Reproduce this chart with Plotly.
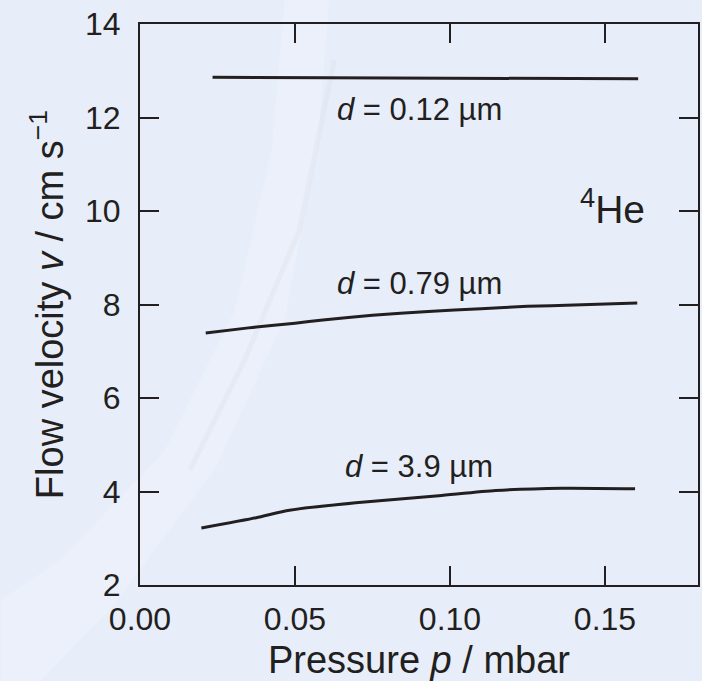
import plotly.graph_objects as go

# Flow velocity of superfluid 4He through pores of different diameter
p_012 = [0.0234, 0.060, 0.100, 0.1607]
v_012 = [12.86, 12.85, 12.84, 12.83]

p_079 = [0.0212, 0.035, 0.050, 0.059, 0.075, 0.093, 0.110, 0.125, 0.140, 0.1604]
v_079 = [7.39, 7.50, 7.60, 7.67, 7.77, 7.85, 7.91, 7.96, 7.99, 8.03]

p_39 = [0.0198, 0.0375, 0.0482, 0.0696, 0.0964, 0.1147, 0.136, 0.1597]
v_39 = [3.22, 3.44, 3.60, 3.76, 3.91, 4.02, 4.07, 4.06]

labels = ["<i>d</i> = 0.12 µm", "<i>d</i> = 0.79 µm", "<i>d</i> = 3.9 µm"]
label_p = [0.090, 0.090, 0.090]
label_v = [12.17, 8.44, 4.53]

x_ticks = [0.00, 0.05, 0.10, 0.15]
y_ticks = [2, 4, 6, 8, 10, 12, 14]

INK = "#231f20"
BG = "#e7eef9"
FONT = "Liberation Sans, Arial, Helvetica, sans-serif"

W, H = 702, 681
L, R, T, B = 140, 2, 24, 96


def px(x):
    return (x - L) / (W - L - R)


def py(y):
    return (H - B - y) / (H - T - B)


fig = go.Figure()
for xs, ys in [(p_012, v_012), (p_079, v_079), (p_39, v_39)]:
    fig.add_trace(go.Scatter(
        x=xs, y=ys, mode="lines",
        line=dict(color=INK, width=3, shape="spline", smoothing=0.6),
        showlegend=False, hoverinfo="skip",
    ))

for txt, xv, yv in zip(labels, label_p, label_v):
    fig.add_annotation(x=xv, y=yv, xref="x", yref="y", text=txt, showarrow=False,
                       font=dict(size=31, color=INK, family=FONT))

fig.add_annotation(x=0.1525, y=10.1, xref="x", yref="y", text="<sup>4</sup>He",
                   showarrow=False, font=dict(size=39, color=INK, family=FONT))

# soft light swoosh in the backdrop
band = [(330, 0), (318, 150), (285, 320), (215, 470), (110, 610), (40, 681),
        (0, 681), (0, 600), (60, 560), (165, 450), (235, 310), (272, 150), (285, 0)]
path = "M " + " L ".join(f"{px(x):.4f},{py(y):.4f}" for x, y in band) + " Z"
fig.add_shape(type="path", path=path, xref="paper", yref="paper", layer="below",
              fillcolor="rgba(255,255,255,0.16)", line=dict(width=0))
crease = [(335, 60), (300, 230), (245, 360), (190, 470)]
cpath = "M " + " L ".join(f"{px(x):.4f},{py(y):.4f}" for x, y in crease)
fig.add_shape(type="path", path=cpath, xref="paper", yref="paper", layer="below",
              line=dict(color="rgba(205,210,220,0.18)", width=5))

axis_common = dict(
    showline=True, mirror="ticks", linecolor=INK, linewidth=2,
    ticks="inside", ticklen=19, tickwidth=2, tickcolor=INK,
    showgrid=False, zeroline=False,
    tickfont=dict(size=32, color=INK, family=FONT),
)

fig.update_xaxes(range=[0, 0.18], tickvals=x_ticks, tickformat=".2f",
                 ticklabelstandoff=5,
                 title=dict(text="Pressure <i>p</i> / mbar",
                            font=dict(size=38, color=INK, family=FONT), standoff=12),
                 **axis_common)
fig.update_yaxes(range=[2, 14], tickvals=y_ticks, ticklabelstandoff=11,
                 title=dict(text="Flow velocity <i>v</i> / cm s<sup>−1</sup>",
                            font=dict(size=38, color=INK, family=FONT), standoff=10),
                 **axis_common)

fig.update_layout(
    width=W, height=H,
    margin=dict(l=L, r=R, t=T, b=B),
    paper_bgcolor=BG, plot_bgcolor="rgba(0,0,0,0)",
    font=dict(family=FONT, color=INK),
)

fig.write_html("out.html")
